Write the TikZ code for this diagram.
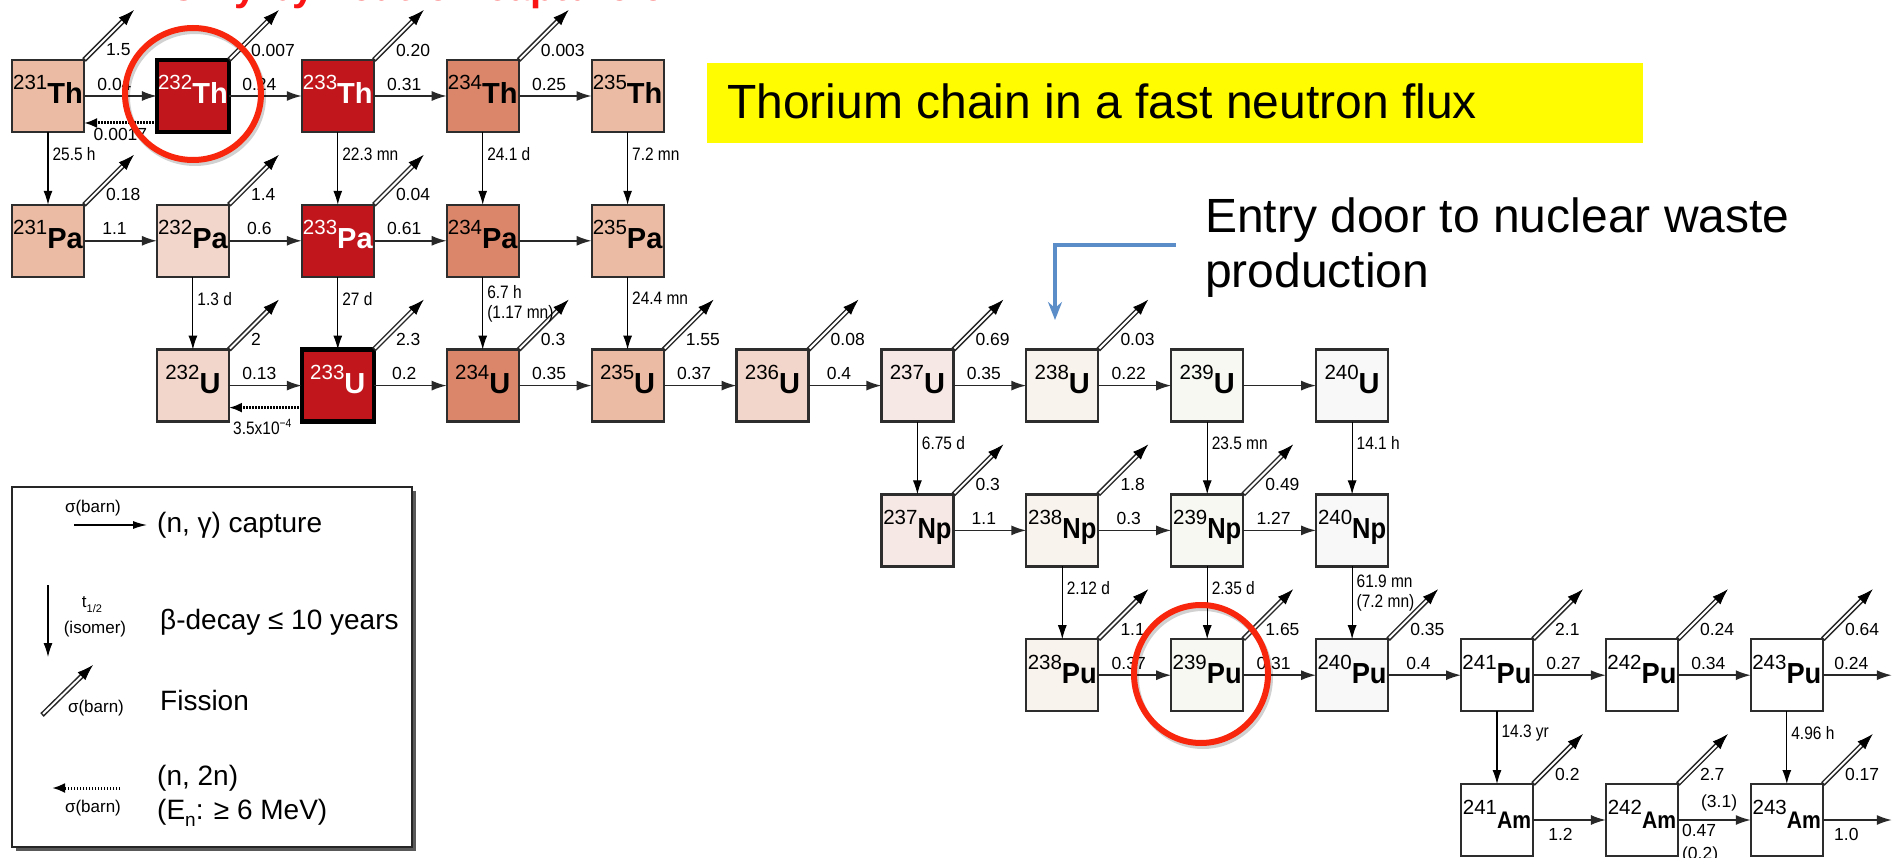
\documentclass[tikz,border=0pt]{standalone}
\usepackage{graphicx}
\usepackage{fontspec}
\setmainfont{Liberation Sans}
\newfontfamily\condfont[FakeStretch=0.86]{Liberation Sans}
\usetikzlibrary{arrows.meta,calc}
\definecolor{boxline}{RGB}{45,45,45}
\definecolor{isored}{RGB}{192,22,28}
\definecolor{isodsal}{RGB}{219,134,106}
\definecolor{isosal}{RGB}{236,187,163}
\definecolor{isolight}{RGB}{243,214,203}
\definecolor{isoA}{RGB}{246,232,228}
\definecolor{isoB}{RGB}{249,243,238}
\definecolor{isoC}{RGB}{247,248,242}
\definecolor{isoD}{RGB}{248,248,248}
\definecolor{circred}{RGB}{248,38,12}
\definecolor{titlered}{RGB}{250,20,20}
\definecolor{bannery}{RGB}{255,251,0}
\definecolor{doorblue}{RGB}{91,142,201}
\definecolor{arrgrey}{RGB}{40,40,40}

\tikzset{
  isobox/.style={draw=boxline, line width=2.2pt, minimum width=72pt, minimum height=72pt, inner sep=0pt, outer sep=0pt},
  thickbox/.style={draw=black, line width=4.5pt},
  isotext/.style={anchor=base, inner sep=0pt, outer sep=0pt},
  clab/.style={font=\fontsize{17.5}{18}\selectfont, inner sep=1pt},
  flab/.style={font=\fontsize{17.5}{18}\selectfont, inner sep=0pt, anchor=west},
  dlab/.style={font=\condfont\fontsize{18}{20}\selectfont, inner sep=0pt, anchor=west, xshift=4pt, align=left},
  capar/.style={draw=arrgrey, line width=1.6pt, -{Latex[length=15pt,width=10pt]}},
  decar/.style={draw=black, line width=1.1pt, -{Latex[length=14pt,width=9pt]}},
  fisout/.style={draw=black!85, line width=5pt, shorten >=11pt, line cap=butt},
  fisin/.style={draw=white, line width=2pt, shorten >=11pt, shorten <=1.5pt, line cap=butt},
  fistip/.style={draw=black, line width=0.8pt, -{Latex[length=16pt,width=11pt]}},
  nnar/.style={draw=black, line width=3pt, dash pattern=on 1.5pt off 1.5pt, -{Latex[length=13pt,width=10pt]}},
  legtxt/.style={font=\fontsize{28}{30}\selectfont, inner sep=0pt, anchor=west},
  legsig/.style={font=\fontsize{17}{18}\selectfont, inner sep=0pt},
  doorarrow/.style={draw=doorblue, line width=4.5pt, -{Stealth[length=18pt,width=14pt,inset=6pt]}},
}

\newcommand\mkiso[8][]{%
  \node[isobox, fill=#7, #1] (#2) at ({48+144.9*#3},{96+144.8*#4}) {};
  \node[isotext, text=#8] (#2-t) at ([yshift=-8pt]#2.center)
    {\raisebox{14pt}{\fontsize{20.5}{20.5}\selectfont #5}{\fontsize{29}{29}\selectfont\bfseries #6}};
}
\newcommand\fisline[2]{%
  \draw[fisout] (#1) -- (#2);
  \draw[fisin] (#1) -- (#2);
  \draw[fistip] ($(#2)!15pt!(#1)$) -- (#2);
}
\newcommand\mkfis[2]{%
  \coordinate (#1-f) at ([shift={(50,-50)}]#1.north east);
  \fisline{#1.north east}{#1-f}
  \node[flab] (#1-fl) at ([shift={(22,-10)}]#1.north east) {#2};
}
\newcommand\mkcap[3]{%
  \draw[capar] (#1.east) -- (#2.west) node[clab, midway, above=4pt, xshift=-6pt] {#3};
}
\newcommand\mkdec[4][0.3]{%
  \draw[decar] (#2.south) -- (#3.north) node[dlab, pos=#1] {#4};
}

\begin{document}
\begin{tikzpicture}[x=1pt,y=-1pt]
\useasboundingbox (0,0) rectangle (1901,858);
\clip (0,0) rectangle (1901,858);
\fill[white] (0,0) rectangle (1901,858);

% cut-off red title
\node[anchor=base west, inner sep=0pt, text=titlered, font=\fontsize{40}{40}\selectfont\bfseries] (title) at (168,1) {Only by neutron capture on Th};

% banner
\node[fill=bannery, minimum width=936pt, minimum height=80pt, inner sep=0pt, anchor=north west] (banner) at (707,63) {};
\node[anchor=base west, inner sep=0pt, font=\fontsize{48}{48}\selectfont] (bannertext) at (727,119) {Thorium chain in a fast neutron flux};

% entry door
\node[anchor=base west, inner sep=0pt, font=\fontsize{48}{48}\selectfont] (door) at (1205,233) {Entry door to nuclear waste};
\node[anchor=base west, inner sep=0pt, font=\fontsize{48}{48}\selectfont] (doorb) at (1205,288) {production};
\coordinate (door1) at (1176,245);
\coordinate (door2) at (1055,245);
\coordinate (door3) at (1055,320);
\draw[doorarrow] (door1) -- (door2) -- (door3);

% ---------- isotopes ----------
\mkiso{th231}{0}{0}{231}{Th}{isosal}{black}
\mkiso[thickbox]{th232}{1}{0}{232}{Th}{isored}{white}
\mkiso{th233}{2}{0}{233}{Th}{isored}{white}
\mkiso{th234}{3}{0}{234}{Th}{isodsal}{black}
\mkiso{th235}{4}{0}{235}{Th}{isosal}{black}

\mkiso{pa231}{0}{1}{231}{Pa}{isosal}{black}
\mkiso{pa232}{1}{1}{232}{Pa}{isolight}{black}
\mkiso{pa233}{2}{1}{233}{Pa}{isored}{white}
\mkiso{pa234}{3}{1}{234}{Pa}{isodsal}{black}
\mkiso{pa235}{4}{1}{235}{Pa}{isosal}{black}

\mkiso{u232}{1}{2}{232}{U}{isolight}{black}
\mkiso[thickbox]{u233}{2}{2}{233}{U}{isored}{white}
\mkiso{u234}{3}{2}{234}{U}{isodsal}{black}
\mkiso{u235}{4}{2}{235}{U}{isosal}{black}
\mkiso{u236}{5}{2}{236}{U}{isolight}{black}
\mkiso{u237}{6}{2}{237}{U}{isoA}{black}
\mkiso{u238}{7}{2}{238}{U}{isoB}{black}
\mkiso{u239}{8}{2}{239}{U}{isoC}{black}
\mkiso{u240}{9}{2}{240}{U}{isoD}{black}

\mkiso{np237}{6}{3}{237}{\scalebox{0.88}[1]{Np}}{isoA}{black}
\mkiso{np238}{7}{3}{238}{\scalebox{0.88}[1]{Np}}{isoB}{black}
\mkiso{np239}{8}{3}{239}{\scalebox{0.88}[1]{Np}}{isoC}{black}
\mkiso{np240}{9}{3}{240}{\scalebox{0.88}[1]{Np}}{isoD}{black}

\mkiso{pu238}{7}{4}{238}{\scalebox{0.94}[1]{Pu}}{isoB}{black}
\mkiso{pu239}{8}{4}{239}{\scalebox{0.94}[1]{Pu}}{isoC}{black}
\mkiso{pu240}{9}{4}{240}{\scalebox{0.94}[1]{Pu}}{isoD}{black}
\mkiso{pu241}{10}{4}{241}{\scalebox{0.94}[1]{Pu}}{white}{black}
\mkiso{pu242}{11}{4}{242}{\scalebox{0.94}[1]{Pu}}{white}{black}
\mkiso{pu243}{12}{4}{243}{\scalebox{0.94}[1]{Pu}}{white}{black}

\mkiso{am241}{10}{5}{241}{{\fontsize{24}{24}\selectfont\scalebox{0.88}[1]{Am}}}{white}{black}
\mkiso{am242}{11}{5}{242}{{\fontsize{24}{24}\selectfont\scalebox{0.88}[1]{Am}}}{white}{black}
\mkiso{am243}{12}{5}{243}{{\fontsize{24}{24}\selectfont\scalebox{0.88}[1]{Am}}}{white}{black}

% ---------- fission ----------
\mkfis{th231}{1.5}
\mkfis{th232}{0.007}
\mkfis{th233}{0.20}
\mkfis{th234}{0.003}
\mkfis{pa231}{0.18}
\mkfis{pa232}{1.4}
\mkfis{pa233}{0.04}
\mkfis{u232}{2}
\mkfis{u233}{2.3}
\mkfis{u234}{0.3}
\mkfis{u235}{1.55}
\mkfis{u236}{0.08}
\mkfis{u237}{0.69}
\mkfis{u238}{0.03}
\mkfis{np237}{0.3}
\mkfis{np238}{1.8}
\mkfis{np239}{0.49}
\mkfis{pu238}{1.1}
\mkfis{pu239}{1.65}
\mkfis{pu240}{0.35}
\mkfis{pu241}{2.1}
\mkfis{pu242}{0.24}
\mkfis{pu243}{0.64}
\mkfis{am241}{0.2}
\mkfis{am242}{2.7}
\mkfis{am243}{0.17}
\node[flab] (am242-fl2) at ([shift={(23,19)}]am242.north east) {(3.1)};

% ---------- captures ----------
\mkcap{th231}{th232}{0.04}
\mkcap{th232}{th233}{0.24}
\mkcap{th233}{th234}{0.31}
\mkcap{th234}{th235}{0.25}
\mkcap{pa231}{pa232}{1.1}
\mkcap{pa232}{pa233}{0.6}
\mkcap{pa233}{pa234}{0.61}
\mkcap{pa234}{pa235}{}
\mkcap{u232}{u233}{0.13}
\mkcap{u233}{u234}{0.2}
\mkcap{u234}{u235}{0.35}
\mkcap{u235}{u236}{0.37}
\mkcap{u236}{u237}{0.4}
\mkcap{u237}{u238}{0.35}
\mkcap{u238}{u239}{0.22}
\mkcap{u239}{u240}{}
\mkcap{np237}{np238}{1.1}
\mkcap{np238}{np239}{0.3}
\mkcap{np239}{np240}{1.27}
\mkcap{pu238}{pu239}{0.37}
\mkcap{pu239}{pu240}{0.31}
\mkcap{pu240}{pu241}{0.4}
\mkcap{pu241}{pu242}{0.27}
\mkcap{pu242}{pu243}{0.34}
\coordinate (pu243-o) at ([xshift=69pt]pu243.east);
\draw[capar] (pu243.east) -- (pu243-o) node[clab, midway, above=4pt, xshift=-6pt] {0.24};
\draw[capar] (am241.east) -- (am242.west) node[clab, midway, below=6pt, xshift=-9pt] {1.2};
\draw[capar] (am242.east) -- (am243.west);
\node[flab] (am242-c1) at ([shift={(4,10)}]am242.east) {0.47};
\node[flab] (am242-c2) at ([shift={(4,35)}]am242.east) {(0.2)};
\coordinate (am243-o) at ([xshift=69pt]am243.east);
\draw[capar] (am243.east) -- (am243-o) node[clab, midway, below=6pt, xshift=-11pt] {1.0};

% ---------- (n,2n) ----------
\draw[nnar] ([yshift=-27pt]th232.west) -- ([yshift=-27pt]th231.east) node[clab, midway, below=3pt] {0.0017};
\draw[nnar] ([yshift=-22pt]u233.west) -- ([yshift=-22pt]u232.east) node[clab, midway, below=9pt, xshift=-3pt, font=\condfont\fontsize{18}{18}\selectfont] {3.5x10\raisebox{7pt}{\fontsize{12}{12}\selectfont −4}};

% ---------- decays ----------
\mkdec{th231}{pa231}{25.5 h}
\mkdec{th233}{pa233}{22.3 mn}
\mkdec{th234}{pa234}{24.1 d}
\mkdec{th235}{pa235}{7.2 mn}
\mkdec{pa232}{u232}{1.3 d}
\mkdec{pa233}{u233}{27 d}
\mkdec[0.37]{pa234}{u234}{6.7 h\\(1.17 mn)}
\mkdec{pa235}{u235}{24.4 mn}
\mkdec{u237}{np237}{6.75 d}
\mkdec{u239}{np239}{23.5 mn}
\mkdec{u240}{np240}{14.1 h}
\mkdec{np238}{pu238}{2.12 d}
\mkdec{np239}{pu239}{2.35 d}
\mkdec[0.37]{np240}{pu240}{61.9 mn\\(7.2 mn)}
\mkdec{pu241}{am241}{14.3 yr}
\mkdec{pu243}{am243}{4.96 h}

% ---------- legend ----------
\fill[black!65] (16,491) rectangle (416,851);
\draw[line width=1.5pt, draw=black!85, fill=white] (12,487) rectangle (412,847);
\node[legsig] (lg-s1) at (93,508) {σ(barn)};
\coordinate (lg-c1) at (74,525);
\coordinate (lg-c2) at (147,525);
\draw[draw=black, line width=1.2pt, -{Latex[length=14pt,width=8pt]}] (lg-c1) -- (lg-c2);
\node[legtxt] (lg-t1) at (157,525) {(n, γ) capture};

\coordinate (lg-d1) at (48,585);
\coordinate (lg-d2) at (48,657);
\draw[decar] (lg-d1) -- (lg-d2);
\node[legsig] (lg-s2) at (92,605) {t\raisebox{-5pt}{\fontsize{11}{11}\selectfont 1/2}};
\node[legsig] (lg-s3) at (95,629) {(isomer)};
\node[legtxt] (lg-t2) at (160,622) {β-decay ≤ 10 years};

\coordinate (lg-f1) at (42,715);
\coordinate (lg-f2) at (93,665);
\fisline{lg-f1}{lg-f2}
\node[legsig] (lg-s4) at (96,708) {σ(barn)};
\node[legtxt] (lg-t3) at (160,700) {Fission};

\coordinate (lg-n1) at (120,788);
\coordinate (lg-n2) at (52,788);
\draw[nnar] (lg-n1) -- (lg-n2);
\node[legsig] (lg-s5) at (93,808) {σ(barn)};
\node[legtxt] (lg-t4) at (157,778) {(n, 2n)};
\node[legtxt] (lg-t5) at (157,813) {(E\raisebox{-7pt}{\fontsize{19}{19}\selectfont n}: ≥ 6 MeV)};

% ---------- red circles ----------
\draw[line width=6pt, black, opacity=0.18] (195,97) ellipse [x radius=68pt, y radius=66pt];
\draw[line width=6pt, circred] (193,94) ellipse [x radius=68pt, y radius=66pt];
\draw[line width=6pt, black, opacity=0.18] (1203,677) ellipse [x radius=67pt, y radius=69pt];
\draw[line width=6pt, circred] (1201,674) ellipse [x radius=67pt, y radius=69pt];
\end{tikzpicture}
\end{document}
